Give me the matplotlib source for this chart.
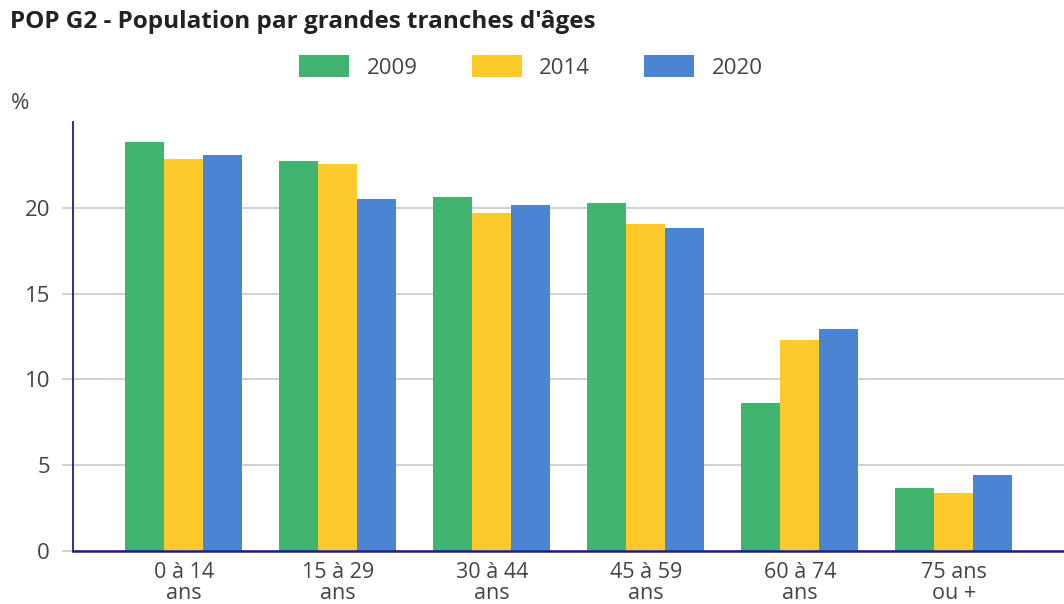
"""
POP G2 - Population par grandes tranches d'âges (barres groupées).
"""
import matplotlib
matplotlib.use('Agg')
import matplotlib.pyplot as plt
from matplotlib.patches import Patch
import numpy as np

# Données (en %)
tranches = ['0 à 14\nans', '15 à 29\nans', '30 à 44\nans',
            '45 à 59\nans', '60 à 74\nans', '75 ans\nou +']
annees = ['2009', '2014', '2020']
pop_2009 = [23.85, 22.75, 20.6, 20.25, 8.6, 3.65]
pop_2014 = [22.85, 22.55, 19.7, 19.05, 12.3, 3.4]
pop_2020 = [23.1, 20.5, 20.15, 18.8, 12.95, 4.45]
yticks = [0, 5, 10, 15, 20]

couleurs = ['#41b470', '#fdca2c', '#4b84d2']
bleu_axe = '#1f1d8a'
gris_texte = '#444444'

plt.rcParams['font.family'] = ['Open Sans', 'DejaVu Sans']

fig = plt.figure(figsize=(10.64, 6.04), dpi=100)
ax = fig.add_axes([0.0686, 0.0877, 0.9314, 0.7105])

x = np.arange(len(tranches))
largeur = 0.253
series = [pop_2009, pop_2014, pop_2020]
for i, (valeurs, couleur) in enumerate(zip(series, couleurs)):
    ax.bar(x + (i - 1) * largeur, valeurs, width=largeur, color=couleur,
           zorder=3, linewidth=0)

ax.set_xlim(-0.72, len(tranches) - 1 + 0.716)
ax.set_ylim(0, 25)
ax.set_yticks(yticks)
ax.set_yticklabels([str(v) for v in yticks], fontsize=16, color=gris_texte)
ax.set_xticks(x)
ax.set_xticklabels(tranches, fontsize=15.5, color=gris_texte, linespacing=0.98)

# Grille horizontale grise
ax.grid(axis='y', color='#c9c9c9', linewidth=1.2, zorder=0)
ax.tick_params(axis='y', length=8, width=1.2, color='#c9c9c9', pad=8.5)
ax.tick_params(axis='x', length=0, pad=8)

for cote in ['top', 'right']:
    ax.spines[cote].set_visible(False)
ax.spines['left'].set_color(bleu_axe)
ax.spines['left'].set_linewidth(1.3)
ax.spines['bottom'].set_color(bleu_axe)
ax.spines['bottom'].set_linewidth(1.8)
ax.spines['bottom'].set_zorder(4)

# Titre et unité
fig.text(0.009, 0.963, "POP G2 - Population par grandes tranches d'âges",
         fontsize=17.5, fontweight='bold', color='#222222', va='center', ha='left')
fig.text(0.010, 0.829, '%', fontsize=16, color=gris_texte, va='center', ha='left')

# Légende
poignees = [Patch(facecolor=c, edgecolor='none') for c in couleurs]
fig.legend(poignees, annees, loc='center', bbox_to_anchor=(0.499, 0.889),
           ncol=3, frameon=False, fontsize=16, handlelength=2.25,
           handleheight=1.12, handletextpad=0.8, columnspacing=2.4,
           labelcolor=gris_texte)

plt.savefig('out.png', dpi=100)
plt.close()
